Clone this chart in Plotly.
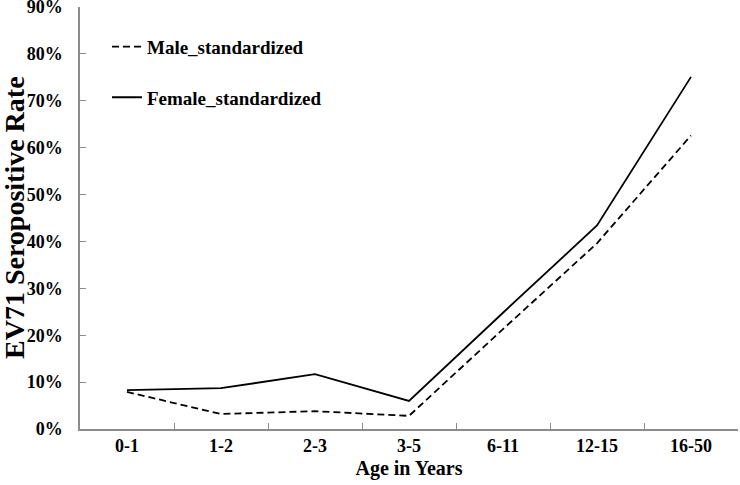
import plotly.graph_objects as go

age_groups = ["0-1", "1-2", "2-3", "3-5", "6-11", "12-15", "16-50"]
male_std = [0.079, 0.032, 0.038, 0.028, 0.213, 0.396, 0.626]
female_std = [0.083, 0.087, 0.117, 0.060, 0.248, 0.434, 0.751]
y_ticks = [0, 0.1, 0.2, 0.3, 0.4, 0.5, 0.6, 0.7, 0.8, 0.9]

font_family = "Liberation Serif"
L, R, T, B = 80, 2, 7, 56
W, H = 740, 485
plot_w = W - L - R

fig = go.Figure()
fig.add_trace(go.Scatter(x=age_groups, y=male_std, mode="lines", name="<b>Male_standardized</b>",
                         line=dict(color="black", width=1.8, dash="7px,4px"), legendgroup="m"))
fig.add_trace(go.Scatter(x=age_groups, y=female_std, mode="lines", name="<b>Female_standardized</b>",
                         line=dict(color="black", width=1.8), legendgroup="f"))

fig.update_layout(
    width=W, height=H,
    margin=dict(l=L, r=R, t=T, b=B),
    paper_bgcolor="white", plot_bgcolor="white",
    font=dict(family=font_family, color="black"),
    showlegend=True,
    legend=dict(x=0.041, y=0.951, xanchor="left", yanchor="top",
                font=dict(family=font_family, size=19, color="black"),
                bgcolor="rgba(0,0,0,0)", tracegroupgap=23, itemwidth=30),
    xaxis=dict(
        type="category", categoryorder="array", categoryarray=age_groups,
        tickvals=age_groups, ticktext=["<b>%s</b>" % a for a in age_groups],
        showline=True, linecolor="#8c8c8c", linewidth=1.5,
        ticks="inside", tickson="boundaries", ticklen=6, tickcolor="#8c8c8c",
        tickfont=dict(family=font_family, size=18, color="black"),
        title=dict(text="<b>Age in Years</b>", font=dict(family=font_family, size=20), standoff=6),
        showgrid=False, zeroline=False, range=[-0.5, 6.5], automargin=False,
    ),
    yaxis=dict(
        range=[0, 0.9], tickvals=y_ticks, ticktext=["<b>%d%%</b>" % round(v * 100) for v in y_ticks],
        showline=True, linecolor="#8c8c8c", linewidth=1.5,
        ticks="inside", ticklen=6, tickcolor="#8c8c8c", ticklabelstandoff=12,
        ticklabeloverflow="allow",
        tickfont=dict(family=font_family, size=18, color="black"),
        showgrid=False, zeroline=False, automargin=False,
    ),
    annotations=[dict(
        text="<b>EV71 Seropositive Rate</b>", textangle=-90,
        xref="paper", yref="paper", x=(14 - L) / plot_w, y=0.5,
        xanchor="center", yanchor="middle", showarrow=False,
        font=dict(family=font_family, size=28, color="black"),
    )],
)

fig.write_html("out.html", config={"displayModeBar": False},
               post_script="document.body.style.margin='0';")
